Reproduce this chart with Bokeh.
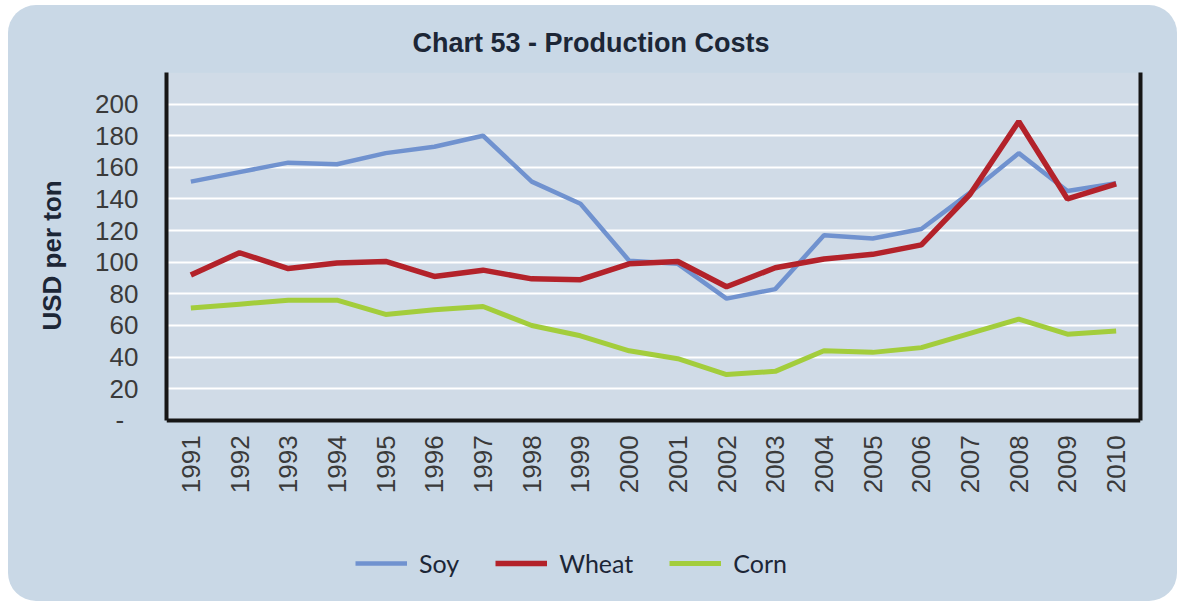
import math
from bokeh.plotting import figure
from bokeh.models import (Range1d, FixedTicker, LinearAxis, Legend, LegendItem, BoxAnnotation, Title)
from bokeh.embed import file_html
from bokeh.resources import INLINE

# ---- data ----
years = list(range(1991, 2011))
soy = [151, 157, 163, 162, 169, 173, 180, 151, 137, 101, 99, 77, 83, 117, 115, 121, 144, 169, 145, 150]
wheat = [92, 106, 96, 99.5, 100.5, 91, 95, 89.5, 89, 99, 100.5, 84.5, 96.5, 102, 105, 111, 143, 189, 140, 149.5]
corn = [71, 73.5, 76, 76, 67, 70, 72, 60, 53.5, 44, 39, 29, 31, 44, 43, 46, 55, 64, 54.5, 56.5]
y_ticks = [0, 20, 40, 60, 80, 100, 120, 140, 160, 180, 200]
series_names = ["Soy", "Wheat", "Corn"]
series_colors = ["#7092cf", "#b3222a", "#a3cd3c"]

PANEL = "#c9d8e6"
INNER = "#d0dbe7"
DARK = "#1c2636"
Y_TOP = 220

p = figure(width=1169, height=596, output_backend="svg", toolbar_location=None,
           x_range=Range1d(1990.5, 2010.5), y_range=Range1d(-107.6, Y_TOP),
           min_border_left=158, min_border_right=37, min_border_top=67, min_border_bottom=11,
           background_fill_color=None, border_fill_color=None, outline_line_color=None)
p.styles = {"border-radius": "28px", "overflow": "hidden", "background-color": PANEL,
            "margin-left": "8px", "margin-top": "5px"}

# plot area background (between the axes)
p.add_layout(BoxAnnotation(bottom=0, top=Y_TOP, fill_color=INNER, fill_alpha=1,
                           line_color=None, level="image"))

# title
p.title.text = "Chart 53 - Production Costs"
p.title.align = "left"
p.title.offset = 246
p.title.standoff = 30
p.title.text_font = "Liberation Sans"
p.title.text_font_size = "27px"
p.title.text_font_style = "bold"
p.title.text_color = DARK

# axes
xa = p.xaxis[0]
xa.fixed_location = 0
xa.ticker = FixedTicker(ticks=years)
xa.major_label_orientation = math.pi / 2
xa.major_label_text_font = "Liberation Sans"
xa.major_label_text_font_size = "26px"
xa.major_label_text_color = "#3a3a3a"
xa.major_label_standoff = 15
xa.major_tick_out = 0
xa.major_tick_in = 0
xa.minor_tick_out = 0
xa.minor_tick_in = 0
xa.axis_line_width = 4
xa.axis_line_color = "#161616"

ya = p.yaxis[0]
ya.bounds = (0, Y_TOP)
ya.ticker = FixedTicker(ticks=y_ticks)
ya.major_label_overrides = {0: "-\u00a0\u00a0"}
ya.major_label_text_font = "Liberation Sans"
ya.major_label_text_font_size = "26px"
ya.major_label_text_color = "#3a3a3a"
ya.major_label_standoff = 28
ya.major_tick_out = 0
ya.major_tick_in = 0
ya.minor_tick_out = 0
ya.minor_tick_in = 0
ya.axis_line_width = 4
ya.axis_line_color = "#161616"

# y-axis title (placed as a side title so it can sit beside the plot area)
ytitle = Title(text="USD per ton", align="left", offset=260, standoff=52,
               text_font="Liberation Sans", text_font_size="26px",
               text_font_style="bold", text_color=DARK)
p.add_layout(ytitle, "left")

ra = LinearAxis(ticker=FixedTicker(ticks=[]), major_label_text_font_size="0px",
                bounds=(0, Y_TOP),
                major_tick_out=0, major_tick_in=0, minor_tick_out=0, minor_tick_in=0,
                axis_line_width=4, axis_line_color="#161616")
p.add_layout(ra, "right")

p.xgrid.visible = False
p.ygrid.grid_line_color = "white"
p.ygrid.grid_line_width = 2

# lines
r_soy = p.line(years, soy, line_color=series_colors[0], line_width=4.5)
r_wheat = p.line(years, wheat, line_color=series_colors[1], line_width=5.5)
r_corn = p.line(years, corn, line_color=series_colors[2], line_width=5)

legend = Legend(items=[LegendItem(label=series_names[0], renderers=[r_soy]),
                       LegendItem(label=series_names[1], renderers=[r_wheat]),
                       LegendItem(label=series_names[2], renderers=[r_corn])],
                orientation="horizontal", location=(189, 12),
                background_fill_alpha=0, border_line_color=None,
                glyph_width=52, label_standoff=12, spacing=36, padding=0, margin=0,
                label_text_font="Lato", label_text_font_size="25px", label_text_color=DARK)
p.add_layout(legend, "center")

open("out.html", "w").write(file_html(p, INLINE))
